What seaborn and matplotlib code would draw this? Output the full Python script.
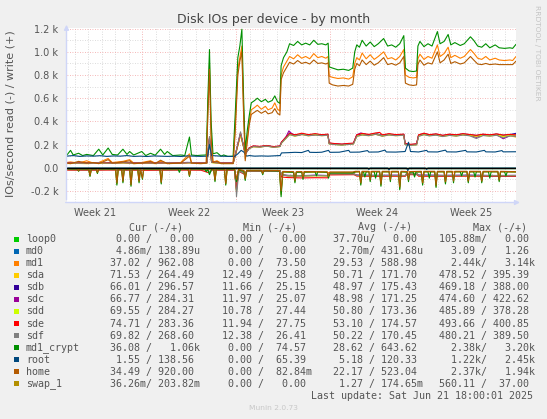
import numpy as np
import pandas as pd
import matplotlib
matplotlib.use("Agg")
import matplotlib.pyplot as plt
from matplotlib.patches import Rectangle
import seaborn as sns

# devices in munin order, with munin's default palette
devices = ["loop0", "md0", "md1", "sda", "sdb", "sdc", "sdd", "sde", "sdf",
           "md1_crypt", "root", "home", "swap_1"]
colors = ["#00CC00", "#0066B3", "#FF8000", "#FFCC00", "#330099", "#990099",
          "#CCFF00", "#FF0000", "#808080", "#008F00", "#00487D", "#B35A00", "#B38F00"]

# week labels (x in days since left edge of the graph)
week_labels = ["Week 21", "Week 22", "Week 23", "Week 24", "Week 25"]
week_centers = [2.13, 9.13, 16.13, 23.13, 30.13]
week_bounds = [5.63, 12.63, 19.63, 26.63]

# ---- writes (IO/s), (day, value) ----
loop0_write = [(0, 0), (33.45, 0)]
md0_write = [(0, 0), (33.45, 0)]
swap_1_write = [(0, 0), (33.45, 0)]

md1_crypt_write = [(0, 105), (0.3, 150), (0.5, 110), (0.9, 125), (1.2, 105), (1.5, 115), (2.0, 105), (2.4, 160),
                   (2.7, 110), (3.1, 170), (3.4, 115), (3.8, 110), (4.2, 160), (4.5, 115), (4.7, 140), (5.0, 110),
                   (5.6, 140), (5.9, 105), (6.25, 125), (6.6, 108), (7.0, 160), (7.3, 115), (7.5, 140), (7.9, 105),
                   (8.5, 110), (8.8, 105), (9.15, 265), (9.3, 110), (9.7, 105), (10.0, 108), (10.4, 110),
                   (10.52, 600), (10.64, 1020), (10.76, 400), (10.9, 120), (11.2, 130), (11.5, 100), (11.7, 110),
                   (12.0, 98), (12.4, 100), (12.55, 450), (12.75, 950), (12.9, 1050), (13.05, 1195), (13.18, 600),
                   (13.3, 150), (13.45, 320), (13.6, 450), (13.75, 560), (14.0, 580), (14.2, 600), (14.5, 570),
                   (14.8, 590), (15.0, 565), (15.3, 580), (15.5, 620), (15.7, 570), (15.88, 555), (15.97, 880),
                   (16.15, 950), (16.4, 1000), (16.6, 1070), (16.9, 1055), (17.2, 1090), (17.5, 1060), (17.8, 1075),
                   (18.1, 1060), (18.4, 1100), (18.7, 1065), (19.0, 1070), (19.3, 1060), (19.47, 1075), (19.55, 870),
                   (19.8, 860), (20.2, 845), (20.6, 850), (21.0, 840), (21.3, 860), (21.45, 1000), (21.6, 1060),
                   (21.8, 1040), (22.0, 1100), (22.3, 1050), (22.6, 1085), (22.9, 1045), (23.2, 1070), (23.6, 1115),
                   (23.9, 1050), (24.2, 1060), (24.5, 1040), (24.8, 1070), (25.1, 1140), (25.22, 860), (25.5, 835),
                   (25.8, 830), (26.05, 835), (26.15, 1050), (26.3, 1090), (26.6, 1045), (26.9, 1070), (27.2, 1050),
                   (27.6, 1175), (27.8, 1070), (28.1, 1090), (28.4, 1150), (28.6, 1060), (28.9, 1080), (29.3, 1055),
                   (29.6, 1070), (30.06, 1130), (30.3, 1100), (30.6, 1050), (30.9, 1040), (31.2, 1070), (31.5, 1035),
                   (31.9, 1060), (32.2, 1035), (32.6, 1030), (33.0, 1035), (33.2, 1030), (33.45, 1065)]

md1_write = [(0, 45), (0.3, 50), (0.9, 40), (1.5, 60), (2.0, 40), (2.4, 45), (3.1, 80), (3.4, 45), (4.2, 55), (4.7, 70),
             (5.0, 40), (5.6, 45), (6.25, 60), (6.6, 40), (7.0, 55), (7.5, 40), (8.5, 45), (9.15, 120), (9.3, 45),
             (10.0, 40), (10.4, 45), (10.52, 500), (10.64, 900), (10.76, 300), (10.9, 50), (11.2, 60), (11.5, 40),
             (12.4, 40), (12.55, 350), (12.75, 850), (12.9, 950), (13.05, 1050), (13.18, 500), (13.3, 80),
             (13.45, 250), (13.6, 400), (13.75, 500), (14.0, 520), (14.2, 540), (14.5, 505), (14.8, 530), (15.0, 500),
             (15.3, 515), (15.5, 560), (15.7, 505), (15.88, 490), (15.97, 800), (16.15, 870), (16.4, 920),
             (16.6, 960), (16.9, 940), (17.2, 975), (17.5, 945), (17.8, 960), (18.1, 940), (18.4, 985), (18.7, 950),
             (19.0, 960), (19.3, 945), (19.47, 960), (19.55, 790), (19.8, 780), (20.2, 770), (20.6, 775), (21.0, 765),
             (21.3, 785), (21.45, 900), (21.6, 950), (21.8, 930), (22.0, 990), (22.3, 940), (22.6, 975), (22.9, 935),
             (23.2, 960), (23.6, 1000), (23.9, 940), (24.2, 950), (24.5, 930), (24.8, 960), (25.1, 1020), (25.22, 800),
             (25.5, 780), (25.8, 775), (26.05, 780), (26.15, 940), (26.3, 980), (26.6, 935), (26.9, 960), (27.2, 945),
             (27.6, 1060), (27.8, 960), (28.1, 985), (28.4, 1040), (28.6, 950), (28.9, 970), (29.3, 945), (29.6, 960),
             (30.06, 1020), (30.3, 990), (30.6, 945), (30.9, 935), (31.2, 960), (31.5, 930), (31.9, 945), (32.2, 930),
             (32.6, 925), (33.0, 930), (33.2, 925), (33.45, 960)]

home_write = [(0, 40), (0.3, 35), (0.9, 55), (1.5, 40), (2.0, 45), (2.4, 35), (3.1, 70), (3.4, 40), (4.2, 50),
              (4.7, 60), (5.0, 35), (5.6, 40), (6.25, 55), (6.6, 35), (7.0, 65), (7.5, 35), (8.5, 40), (9.15, 100),
              (9.3, 40), (10.0, 35), (10.4, 40), (10.52, 450), (10.64, 850), (10.76, 250), (10.9, 45), (11.2, 55),
              (11.5, 35), (12.4, 35), (12.55, 300), (12.75, 800), (12.9, 920), (13.05, 1000), (13.18, 450),
              (13.3, 60), (13.45, 220), (13.6, 370), (13.75, 460), (14.0, 480), (14.2, 495), (14.5, 470), (14.8, 490),
              (15.0, 465), (15.3, 475), (15.5, 510), (15.7, 470), (15.88, 455), (15.97, 760), (16.15, 820),
              (16.4, 870), (16.6, 910), (16.9, 895), (17.2, 925), (17.5, 900), (17.8, 910), (18.1, 895), (18.4, 930),
              (18.7, 900), (19.0, 905), (19.3, 895), (19.47, 905), (19.55, 730), (19.8, 715), (20.2, 705),
              (20.6, 710), (21.0, 705), (21.3, 720), (21.45, 850), (21.6, 900), (21.8, 880), (22.0, 930), (22.3, 890),
              (22.6, 920), (22.9, 885), (23.2, 905), (23.6, 950), (23.9, 890), (24.2, 900), (24.5, 885), (24.8, 905),
              (25.1, 960), (25.22, 730), (25.5, 715), (25.8, 710), (26.05, 715), (26.15, 890), (26.3, 930),
              (26.6, 885), (26.9, 905), (27.2, 895), (27.6, 1000), (27.8, 905), (28.1, 930), (28.4, 980), (28.6, 900),
              (28.9, 915), (29.3, 895), (29.6, 905), (30.06, 960), (30.3, 930), (30.6, 895), (30.9, 890), (31.2, 900),
              (31.5, 890), (31.9, 895), (32.2, 890), (32.6, 890), (33.0, 890), (33.2, 890), (33.45, 920)]

root_write = [(0, 100), (0.5, 105), (1.0, 98), (1.5, 102), (2.0, 100), (2.5, 104), (3.0, 98), (3.5, 102), (4.0, 100),
              (4.5, 105), (5.0, 98), (5.5, 100), (6.0, 97), (6.5, 102), (7.0, 100), (7.5, 98), (8.0, 100), (8.5, 97),
              (9.0, 102), (9.5, 100), (10.0, 98), (10.5, 100), (10.64, 200), (10.8, 105), (11.5, 100), (12.0, 98),
              (12.5, 97), (12.75, 120), (13.0, 150), (13.2, 135), (13.4, 100), (13.6, 105), (14.0, 100), (14.5, 102),
              (15.0, 100), (15.5, 103), (15.9, 105), (16.0, 128), (16.5, 130), (17.0, 133), (17.5, 131), (18.0, 150),
              (18.1, 133), (18.6, 132), (19.0, 134), (19.5, 150), (19.6, 133), (20.3, 134), (21.0, 150), (21.1, 134),
              (21.8, 135), (22.4, 148), (22.5, 135), (23.2, 136), (23.7, 152), (23.8, 136), (24.5, 135), (25.2, 140),
              (25.45, 220), (25.6, 140), (26.2, 136), (26.8, 150), (26.9, 137), (27.6, 136), (28.2, 152), (28.3, 137),
              (29.0, 136), (29.7, 150), (29.8, 137), (30.5, 136), (31.1, 150), (31.2, 137), (31.9, 136), (32.4, 148),
              (32.5, 137), (33.45, 138)]

sda_write = [(0, 36), (0.7, 38), (1.5, 35), (2.4, 40), (3.1, 37), (4.2, 41), (5.0, 36), (5.8, 39), (6.6, 36), (7.4, 40),
             (8.2, 37), (9.1, 42), (9.9, 37), (10.45, 40), (10.64, 240), (10.8, 45), (11.5, 38), (12.4, 37), (12.6, 120),
             (12.95, 280), (13.15, 190), (13.3, 125), (13.6, 165), (13.9, 180), (14.4, 178), (14.9, 186), (15.4, 176),
             (15.88, 182), (16.0, 212), (16.35, 255), (16.6, 285), (17.0, 272), (17.5, 286), (18.0, 275), (18.5, 282),
             (19.0, 276), (19.45, 280), (19.55, 208), (20.0, 202), (20.5, 198), (21.0, 203), (21.35, 206), (21.6, 270),
             (22.0, 282), (22.5, 276), (23.0, 288), (23.5, 272), (24.0, 282), (24.5, 276), (25.1, 280), (25.2, 202),
             (25.6, 196), (26.05, 200), (26.2, 272), (26.6, 286), (27.0, 276), (27.5, 282), (28.0, 270), (28.5, 280),
             (29.0, 274), (29.5, 283), (30.0, 277), (30.5, 270), (31.0, 279), (31.5, 274), (32.0, 281), (32.5, 268),
             (33.0, 276), (33.45, 264)]

sdb_write = [(0, 42), (0.8, 44), (1.6, 41), (2.5, 45), (3.3, 42), (4.1, 46), (5.1, 41), (5.9, 44), (6.7, 41), (7.5, 45),
             (8.3, 42), (9.0, 46), (9.8, 42), (10.45, 44), (10.64, 250), (10.8, 48), (11.6, 42), (12.4, 41), (12.6, 130),
             (12.95, 290), (13.15, 200), (13.3, 120), (13.6, 170), (13.9, 186), (14.4, 182), (14.9, 190), (15.4, 181),
             (15.88, 186), (16.0, 220), (16.35, 262), (16.6, 300), (17.0, 280), (17.5, 292), (18.0, 282), (18.5, 290),
             (19.0, 282), (19.45, 288), (19.55, 212), (20.0, 206), (20.5, 202), (21.0, 208), (21.35, 210), (21.6, 280),
             (22.0, 292), (22.5, 284), (23.0, 296), (23.5, 280), (24.0, 290), (24.5, 283), (25.1, 288), (25.2, 206),
             (25.6, 200), (26.05, 204), (26.2, 280), (26.6, 296), (27.0, 284), (27.5, 290), (28.0, 278), (28.5, 288),
             (29.0, 282), (29.5, 292), (30.0, 285), (30.5, 278), (31.0, 288), (31.5, 282), (32.0, 290), (32.5, 280),
             (33.0, 286), (33.45, 297)]

sdc_write = [(0, 40), (0.9, 42), (1.7, 39), (2.6, 43), (3.4, 40), (4.3, 44), (5.2, 39), (6.0, 42), (6.8, 39), (7.6, 43),
             (8.4, 40), (9.2, 44), (10.0, 40), (10.45, 42), (10.64, 255), (10.8, 46), (11.7, 40), (12.4, 39), (12.6, 125),
             (12.95, 295), (13.15, 195), (13.3, 118), (13.6, 168), (13.9, 184), (14.4, 180), (14.9, 188), (15.4, 179),
             (15.88, 184), (16.0, 218), (16.35, 270), (16.55, 318), (16.8, 290), (17.2, 278), (17.6, 290), (18.1, 279),
             (18.6, 286), (19.1, 280), (19.45, 284), (19.55, 210), (20.0, 204), (20.5, 200), (21.0, 206), (21.35, 208),
             (21.6, 284), (21.9, 300), (22.5, 280), (23.0, 290), (23.5, 276), (24.0, 288), (24.5, 279), (25.1, 284),
             (25.2, 204), (25.6, 198), (26.05, 202), (26.2, 278), (26.6, 292), (27.0, 280), (27.5, 286), (28.0, 274),
             (28.5, 284), (29.0, 278), (29.5, 288), (30.0, 281), (30.5, 262), (31.0, 284), (31.5, 278), (32.0, 286),
             (32.5, 250), (33.0, 276), (33.45, 284)]

sdd_write = [(0, 38), (0.75, 40), (1.55, 37), (2.45, 42), (3.2, 38), (4.15, 43), (5.05, 38), (5.85, 41), (6.65, 38),
             (7.45, 42), (8.25, 39), (9.05, 43), (9.85, 39), (10.45, 41), (10.64, 245), (10.8, 44), (11.55, 39),
             (12.4, 38), (12.6, 122), (12.95, 285), (13.15, 192), (13.3, 122), (13.6, 168), (13.9, 183), (14.4, 180),
             (14.9, 188), (15.4, 178), (15.88, 184), (16.0, 214), (16.35, 258), (16.6, 288), (17.0, 276), (17.5, 290),
             (18.0, 280), (18.5, 288), (19.0, 279), (19.45, 283), (19.55, 206), (20.0, 200), (20.5, 196), (21.0, 202),
             (21.35, 205), (21.6, 274), (22.0, 286), (22.5, 279), (23.0, 292), (23.5, 275), (24.0, 286), (24.5, 278),
             (25.1, 282), (25.2, 200), (25.6, 194), (26.05, 198), (26.2, 275), (26.6, 288), (27.0, 278), (27.5, 284),
             (28.0, 272), (28.5, 282), (29.0, 276), (29.5, 286), (30.0, 279), (30.5, 272), (31.0, 281), (31.5, 276),
             (32.0, 284), (32.5, 272), (33.0, 278), (33.45, 284)]

sde_write = [(0, 41), (0.85, 43), (1.65, 40), (2.55, 44), (3.35, 41), (4.25, 45), (5.15, 40), (5.95, 43), (6.75, 40),
             (7.55, 44), (8.35, 41), (9.15, 45), (9.95, 41), (10.45, 43), (10.64, 260), (10.8, 47), (11.65, 41),
             (12.4, 40), (12.6, 128), (12.95, 300), (13.15, 198), (13.3, 124), (13.6, 172), (13.9, 188), (14.4, 184),
             (14.9, 192), (15.4, 182), (15.88, 188), (16.0, 222), (16.35, 265), (16.6, 296), (17.0, 284), (17.5, 298),
             (18.0, 286), (18.5, 294), (19.0, 285), (19.45, 290), (19.55, 214), (20.0, 208), (20.5, 204), (21.0, 210),
             (21.35, 212), (21.6, 284), (22.0, 296), (22.5, 288), (23.0, 300), (23.3, 305), (23.5, 284), (24.0, 294),
             (24.5, 286), (25.1, 290), (25.2, 208), (25.6, 202), (26.05, 206), (26.2, 284), (26.6, 298), (27.0, 286),
             (27.5, 292), (28.0, 280), (28.5, 290), (29.0, 284), (29.5, 294), (30.0, 287), (30.5, 280), (31.0, 290),
             (31.5, 284), (32.0, 292), (32.5, 282), (33.0, 288), (33.45, 283)]

sdf_write = [(0, 39), (0.8, 41), (1.6, 38), (2.5, 43), (3.3, 39), (4.2, 44), (5.1, 39), (5.9, 42), (6.7, 39), (7.5, 43),
             (8.3, 40), (9.1, 44), (9.9, 40), (10.45, 42), (10.64, 270), (10.8, 46), (11.6, 40), (12.4, 39), (12.6, 130),
             (12.95, 310), (13.15, 200), (13.3, 118), (13.6, 166), (13.9, 182), (14.4, 179), (14.9, 187), (15.4, 177),
             (15.88, 183), (16.0, 214), (16.35, 256), (16.6, 286), (17.0, 274), (17.5, 287), (18.0, 276), (18.5, 283),
             (19.0, 277), (19.45, 281), (19.55, 205), (20.0, 199), (20.5, 195), (21.0, 201), (21.35, 204), (21.6, 271),
             (22.0, 283), (22.5, 277), (23.0, 289), (23.5, 273), (24.0, 283), (24.5, 277), (25.1, 281), (25.2, 199),
             (25.6, 193), (26.05, 197), (26.2, 271), (26.6, 285), (27.0, 275), (27.5, 281), (28.0, 269), (28.5, 279),
             (29.0, 273), (29.5, 282), (30.0, 276), (30.5, 252), (31.0, 278), (31.5, 273), (32.0, 280), (32.5, 258),
             (33.0, 275), (33.45, 269)]

# ---- reads (IO/s, drawn below zero) ----
loop0_read = [(0, 0), (33.45, 0)]
md0_read = [(0, 0), (33.45, 0)]
swap_1_read = [(0, 1), (33.45, 1)]
root_read = [(0, 2), (22.4, 2), (22.5, 15), (22.6, 2), (23.9, 2), (24.0, 20), (24.1, 2), (25.3, 2), (25.4, 25),
             (25.5, 2), (26.7, 2), (26.8, 15), (26.9, 2), (33.45, 2)]

md1_crypt_read = [(0, 10), (0.8, 12), (0.9, 30), (1.0, 10), (1.65, 12), (1.75, 75), (1.85, 12), (2.2, 10), (2.3, 50),
                  (2.4, 10), (3.65, 12), (3.75, 150), (3.85, 12), (4.1, 10), (4.2, 130), (4.3, 12), (4.7, 10),
                  (4.8, 160), (4.9, 12), (5.3, 10), (5.4, 130), (5.5, 10), (5.65, 100), (5.75, 10), (6.95, 12),
                  (7.05, 140), (7.15, 10), (8.3, 10), (8.4, 40), (8.5, 10), (9.05, 12), (9.15, 75), (9.25, 10),
                  (10.3, 12), (10.4, 35), (10.5, 10), (10.64, 60), (10.8, 12), (10.95, 12), (11.05, 120), (11.15, 10),
                  (11.75, 12), (11.85, 150), (11.95, 12), (12.5, 10), (12.65, 120), (12.8, 20), (13.2, 30),
                  (13.3, 110), (13.4, 25), (14.5, 25), (14.6, 60), (14.7, 25), (15.85, 28), (15.97, 250), (16.1, 35),
                  (16.9, 40), (17.0, 130), (17.1, 40), (17.5, 38), (17.6, 100), (17.7, 38), (18.5, 35), (18.6, 70),
                  (18.7, 35), (19.4, 40), (19.5, 90), (19.6, 45), (21.3, 45), (21.5, 35), (21.8, 35), (21.9, 150),
                  (22.0, 35), (22.1, 35), (22.2, 80), (22.3, 35), (22.5, 35), (22.6, 120), (22.7, 35), (22.9, 35),
                  (23.0, 90), (23.1, 35), (23.3, 35), (23.4, 160), (23.5, 35), (24.0, 35), (24.1, 120), (24.2, 35),
                  (24.7, 35), (24.8, 190), (24.9, 35), (25.35, 38), (25.45, 120), (25.55, 38), (25.8, 38), (25.9, 80),
                  (26.0, 38), (26.4, 35), (26.5, 150), (26.6, 35), (26.9, 35), (27.0, 90), (27.1, 35), (27.4, 35),
                  (27.5, 170), (27.6, 35), (28.1, 35), (28.2, 140), (28.3, 35), (28.7, 35), (28.8, 130), (28.9, 35),
                  (29.3, 35), (29.4, 70), (29.5, 35), (29.8, 35), (29.9, 130), (30.0, 35), (30.3, 35), (30.4, 80),
                  (30.5, 35), (30.8, 35), (30.9, 130), (31.0, 35), (31.4, 35), (31.5, 90), (31.6, 35), (32.1, 35),
                  (32.2, 120), (32.3, 35), (32.6, 35), (32.7, 70), (32.8, 35), (33.45, 36)]

md1_read = [(0, 10), (0.8, 11), (0.9, 28), (1.0, 10), (1.65, 11), (1.75, 70), (1.85, 11), (2.2, 10), (2.3, 45),
            (2.4, 10), (3.65, 11), (3.75, 140), (3.85, 11), (4.1, 10), (4.2, 120), (4.3, 11), (4.7, 10), (4.8, 150),
            (4.9, 11), (5.3, 10), (5.4, 120), (5.5, 10), (6.95, 11), (7.05, 130), (7.15, 10), (9.05, 11), (9.15, 70),
            (9.25, 10), (10.95, 11), (11.05, 110), (11.15, 10), (11.75, 11), (11.85, 140), (11.95, 11), (12.5, 10),
            (12.65, 110), (12.8, 18), (13.2, 26), (13.3, 100), (13.4, 24), (15.85, 26), (15.97, 230), (16.1, 38),
            (16.9, 38), (17.0, 120), (17.1, 38), (19.4, 40), (19.55, 42), (21.4, 42), (21.6, 36), (21.8, 36),
            (21.9, 140), (22.0, 36), (23.3, 36), (23.4, 150), (23.5, 36), (24.7, 36), (24.8, 180), (24.9, 36),
            (26.4, 36), (26.5, 140), (26.6, 36), (27.4, 36), (27.5, 160), (27.6, 36), (28.1, 36), (28.2, 130),
            (28.3, 36), (29.8, 36), (29.9, 120), (30.0, 36), (30.8, 36), (30.9, 120), (31.0, 36), (32.1, 36),
            (32.2, 110), (32.3, 36), (33.45, 37)]

home_read = [(0, 9), (0.8, 10), (0.9, 25), (1.0, 9), (1.65, 10), (1.75, 65), (1.85, 10), (2.2, 9), (2.3, 40),
             (2.4, 9), (3.65, 10), (3.75, 130), (3.85, 10), (4.1, 9), (4.2, 115), (4.3, 10), (4.7, 9), (4.8, 145),
             (4.9, 10), (5.3, 9), (5.4, 115), (5.5, 9), (5.65, 90), (5.75, 9), (6.95, 10), (7.05, 125), (7.15, 9),
             (9.05, 10), (9.15, 65), (9.25, 9), (10.95, 10), (11.05, 105), (11.15, 9), (11.75, 10), (11.85, 135),
             (11.95, 10), (12.5, 9), (12.65, 100), (12.8, 16), (13.2, 24), (13.3, 95), (13.4, 22), (14.5, 22),
             (14.6, 50), (14.7, 22), (15.85, 24), (15.97, 200), (16.1, 32), (16.9, 34), (17.0, 110), (17.1, 34),
             (17.5, 33), (17.6, 85), (17.7, 33), (19.4, 35), (19.5, 75), (19.6, 36), (21.3, 36), (21.5, 31),
             (21.8, 31), (21.9, 130), (22.0, 31), (22.5, 31), (22.6, 105), (22.7, 31), (23.3, 31), (23.4, 140),
             (23.5, 31), (24.0, 31), (24.1, 105), (24.2, 31), (24.7, 31), (24.8, 165), (24.9, 31), (25.35, 33),
             (25.45, 105), (25.55, 33), (26.4, 31), (26.5, 130), (26.6, 31), (27.4, 31), (27.5, 150), (27.6, 31),
             (28.1, 31), (28.2, 120), (28.3, 31), (28.7, 31), (28.8, 115), (28.9, 31), (29.8, 31), (29.9, 115),
             (30.0, 31), (30.8, 31), (30.9, 115), (31.0, 31), (32.1, 31), (32.2, 105), (32.3, 31), (33.45, 34)]

sda_read = [(0, 16), (1.5, 18), (3.0, 15), (4.5, 19), (6.0, 16), (7.5, 18), (9.0, 15), (10.5, 17), (10.64, 40),
            (10.8, 17), (12.5, 18), (12.65, 200), (12.8, 30), (13.3, 50), (13.45, 26), (14.5, 28), (15.9, 27),
            (16.0, 62), (16.5, 70), (17.5, 72), (18.5, 69), (19.45, 71), (19.55, 55), (20.5, 54), (21.4, 56),
            (21.6, 68), (23.0, 70), (24.5, 69), (25.2, 71), (25.3, 55), (26.1, 56), (26.2, 68), (28.0, 70),
            (30.0, 69), (32.0, 72), (33.45, 71.5)]
sdb_read = [(0, 15), (1.5, 17), (3.0, 14), (4.5, 18), (6.0, 15), (7.5, 17), (9.0, 14), (10.5, 16), (10.64, 38),
            (10.8, 16), (12.5, 17), (12.65, 190), (12.8, 28), (13.3, 45), (13.45, 25), (14.5, 27), (15.9, 26),
            (16.0, 60), (16.5, 66), (17.5, 68), (18.5, 65), (19.45, 67), (19.55, 52), (20.5, 51), (21.4, 53),
            (21.6, 64), (23.0, 66), (24.5, 65), (25.2, 67), (25.3, 52), (26.1, 53), (26.2, 64), (28.0, 66),
            (30.0, 65), (32.0, 67), (33.45, 66)]
sdc_read = [(0, 15), (1.5, 16), (3.0, 15), (4.5, 17), (6.0, 15), (7.5, 16), (9.0, 15), (10.5, 16), (10.64, 39),
            (10.8, 16), (12.5, 17), (12.65, 195), (12.8, 28), (13.3, 46), (13.45, 25), (14.5, 27), (15.9, 27),
            (16.0, 62), (16.5, 70), (17.5, 70), (18.5, 66), (19.45, 68), (19.55, 53), (20.5, 52), (21.4, 54),
            (21.6, 65), (23.0, 67), (24.5, 66), (25.2, 68), (25.3, 53), (26.1, 54), (26.2, 65), (28.0, 67),
            (30.0, 66), (32.0, 68), (33.45, 67)]
sdd_read = [(0, 16), (1.5, 17), (3.0, 15), (4.5, 18), (6.0, 16), (7.5, 17), (9.0, 15), (10.5, 17), (10.64, 40),
            (10.8, 17), (12.5, 18), (12.65, 205), (12.8, 29), (13.3, 48), (13.45, 26), (14.5, 28), (15.9, 27),
            (16.0, 62), (16.5, 69), (17.5, 71), (18.5, 68), (19.45, 70), (19.55, 54), (20.5, 53), (21.4, 55),
            (21.6, 67), (23.0, 69), (24.5, 68), (25.2, 70), (25.3, 54), (26.1, 55), (26.2, 67), (28.0, 69),
            (30.0, 68), (32.0, 71), (33.45, 69.5)]
sde_read = [(0, 20), (2.0, 21), (4.0, 19), (6.0, 22), (8.0, 20), (10.0, 21), (10.64, 45), (10.8, 20), (12.5, 21),
            (12.65, 180), (12.8, 30), (13.3, 60), (13.45, 28), (15.9, 30), (16.0, 80), (16.5, 85), (17.5, 88),
            (18.5, 86), (19.45, 87), (19.55, 62), (21.4, 60), (21.6, 72), (23.0, 74), (24.5, 73), (25.2, 74),
            (25.3, 60), (26.1, 60), (26.2, 73), (28.0, 74), (30.0, 72), (32.0, 75), (33.45, 75)]
sdf_read = [(0, 16), (1.5, 18), (3.0, 16), (4.5, 18), (6.0, 16), (7.5, 18), (9.0, 16), (10.5, 17), (10.64, 42),
            (10.8, 17), (12.5, 18), (12.6, 120), (12.65, 250), (12.75, 120), (12.85, 30), (13.3, 55), (13.45, 27),
            (14.5, 28), (15.9, 28), (16.0, 63), (16.5, 70), (17.5, 71), (18.5, 68), (19.45, 70), (19.55, 54),
            (20.5, 53), (21.4, 55), (21.6, 67), (23.0, 69), (24.5, 68), (25.2, 70), (25.3, 54), (26.1, 55),
            (26.2, 67), (28.0, 69), (30.0, 68), (32.0, 71), (33.45, 70)]

writes = [loop0_write, md0_write, md1_write, sda_write, sdb_write, sdc_write, sdd_write, sde_write, sdf_write,
          md1_crypt_write, root_write, home_write, swap_1_write]
reads = [loop0_read, md0_read, md1_read, sda_read, sdb_read, sdc_read, sdd_read, sde_read, sdf_read,
         md1_crypt_read, root_read, home_read, swap_1_read]

# ---- legend statistics (read / write) ----
cur_read = ["0.00", "4.86m", "37.02", "71.53", "66.01", "66.77", "69.55", "74.71", "69.82", "36.08", "1.55", "34.49", "36.26m"]
cur_write = ["0.00", "138.89u", "962.08", "264.49", "296.57", "284.31", "284.27", "283.36", "268.60", "1.06k", "138.56", "920.00", "203.82m"]
min_read = ["0.00", "0.00", "0.00", "12.49", "11.66", "11.97", "10.78", "11.94", "12.38", "0.00", "0.00", "0.00", "0.00"]
min_write = ["0.00", "0.00", "73.50", "25.88", "25.15", "25.07", "27.44", "27.75", "26.41", "74.57", "65.39", "82.84m", "0.00"]
avg_read = ["37.70u", "2.70m", "29.53", "50.71", "48.97", "48.98", "50.80", "53.10", "50.22", "28.62", "5.18", "22.17", "1.27"]
avg_write = ["0.00", "431.68u", "588.98", "171.70", "175.43", "171.25", "173.36", "174.57", "170.45", "643.62", "120.33", "523.04", "174.65m"]
max_read = ["105.88m", "3.09", "2.44k", "478.52", "469.18", "474.60", "485.89", "493.66", "480.21", "2.38k", "1.22k", "2.37k", "560.11"]
max_write = ["0.00", "1.26", "3.14k", "395.39", "388.00", "422.62", "378.28", "400.85", "389.50", "3.20k", "2.45k", "1.94k", "37.00"]

W, H = 547, 419
FONT = "#555555"
AXIS = "#CFD6F8"

sns.set_style("white")
plt.rcParams["font.family"] = ["DejaVu Sans"]

fig = plt.figure(figsize=(W / 100, H / 100), dpi=100, facecolor="#F0F0F0")
ax = fig.add_axes([66.5 / W, 1 - 202.5 / H, 449.5 / W, 174.4 / H])
ax.set_facecolor("white")
ax.set_xlim(0, 33.45)
ax.set_ylim(-300, 1205)

# grid: grey dotted per day / 100, red dotted per week / 200
for d in np.arange(0.63, 33.45, 1.0):
    major = any(abs(d - b) < 0.01 for b in week_bounds)
    ax.axvline(d, color="#F2A0A0" if major else "#D0D0D0", lw=0.6, ls=(0, (1, 2)), zorder=0)
for v in range(-200, 1201, 100):
    ax.axhline(v, color="#F2A0A0" if v % 200 == 0 else "#D0D0D0", lw=0.6, ls=(0, (1, 2)), zorder=0)

for dev, col, rd, wr in zip(devices, colors, reads, writes):
    r = pd.DataFrame(rd, columns=["day", "val"])
    w = pd.DataFrame(wr, columns=["day", "val"])
    sns.lineplot(x=r["day"], y=-r["val"], ax=ax, color=col, lw=0.8, estimator=None, sort=False, legend=False)
    sns.lineplot(x=w["day"], y=w["val"], ax=ax, color=col, lw=0.8, estimator=None, sort=False, legend=False)

ax.axhline(0, color="black", lw=0.9, zorder=5)

for s in ax.spines.values():
    s.set_visible(False)
ax.annotate("", xy=(0, 1.035), xytext=(0, 0), xycoords="axes fraction",
            arrowprops=dict(arrowstyle="-|>", color=AXIS, lw=1, mutation_scale=7), annotation_clip=False)
ax.annotate("", xy=(1.015, 0), xytext=(-0.008, 0), xycoords="axes fraction",
            arrowprops=dict(arrowstyle="-|>", color=AXIS, lw=1, mutation_scale=7), annotation_clip=False)

ax.set_xticks(week_centers)
ax.set_xticklabels(week_labels)
yt = list(range(-200, 1201, 200))
ax.set_yticks(yt)
ax.set_yticklabels(["0.0" if v == 0 else f"{v / 1000:.1f} k" for v in yt])
ax.tick_params(axis="x", length=0, pad=4, labelsize=7, labelcolor=FONT)
ax.tick_params(axis="y", length=2, color=AXIS, pad=4, labelsize=7, labelcolor=FONT)
ax.set_xlabel("")
ax.set_ylabel("")

fig.text(0.5, 1 - 20 / H, "Disk IOs per device - by month", ha="center", va="center", fontsize=9, color="#444444")
fig.text(10.5 / W, 1 - 114 / H, "IOs/second read (-) / write (+)", rotation=90, ha="center", va="center",
         fontsize=8, color=FONT)
fig.text(537 / W, 1 - 5 / H, "RRDTOOL / TOBI OETIKER", rotation=270, ha="center", va="top",
         fontsize=5.4, color="#C4C4C4")

# legend table
MONO = "DejaVu Sans Mono"
LS = 7.2


def split(s):
    return (s[:-1], s[-1]) if s[-1].isalpha() else (s, " ")


def cell(rv, wv):
    a, sa = split(rv)
    b, sb = split(wv)
    return f"{a:>6}{sa}/{b:>7}{sb}"


hy = 227.3
for txt, x in zip(["Cur (-/+)", "Min (-/+)", "Avg (-/+)", "Max (-/+)"], [129.1, 243.1, 357.5, 472.6]):
    fig.text(x / W, 1 - hy / H, txt, family=MONO, fontsize=LS, color=FONT, va="center")

col_x = [104.0, 216.2, 327.1, 438.8]
for i, dev in enumerate(devices):
    y = 239.3 + 12.03 * i
    fig.patches.append(Rectangle((14 / W, 1 - (y + 2.5) / H), 5 / W, 5 / H, facecolor=colors[i],
                                 edgecolor="none", transform=fig.transFigure, figure=fig))
    fig.text(26 / W, 1 - y / H, dev, family=MONO, fontsize=LS, color=FONT, va="center")
    cells = [cell(cur_read[i], cur_write[i]), cell(min_read[i], min_write[i]),
             cell(avg_read[i], avg_write[i]), cell(max_read[i], max_write[i])]
    for x, c in zip(col_x, cells):
        fig.text(x / W, 1 - y / H, c, family=MONO, fontsize=LS, color=FONT, va="center")

fig.text(533 / W, 1 - 395.7 / H, "Last update: Sat Jun 21 18:00:01 2025", family=MONO, fontsize=LS,
         color=FONT, va="center", ha="right")
fig.text(273 / W, 1 - 407.7 / H, "Munin 2.0.73", fontsize=5.4, color="#C8C8C8", ha="center", va="center")

fig.savefig("out.png", dpi=100, facecolor=fig.get_facecolor())
